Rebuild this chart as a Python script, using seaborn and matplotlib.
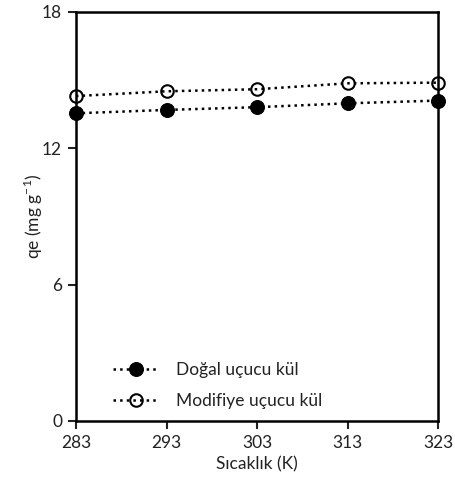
import matplotlib
matplotlib.use("Agg")
import matplotlib.pyplot as plt
import seaborn as sns
import pandas as pd

temperatures = [283, 293, 303, 313, 323]
dogal = [13.54, 13.69, 13.81, 13.98, 14.10]
modifiye = [14.30, 14.51, 14.60, 14.86, 14.89]
series_names = ["Doğal uçucu kül", "Modifiye uçucu kül"]
x_ticks = [283, 293, 303, 313, 323]
y_ticks = [0, 6, 12, 18]

sns.set_style("white")
plt.rcParams['font.family'] = ['Lato', 'DejaVu Sans']
plt.rcParams['mathtext.fontset'] = 'custom'
plt.rcParams['mathtext.rm'] = 'Lato'

df = pd.DataFrame({
    "T": temperatures * 2,
    "qe": dogal + modifiye,
    "series": [series_names[0]] * 5 + [series_names[1]] * 5,
})

fig = plt.figure(figsize=(4.55, 4.91), dpi=100)
ax = fig.add_axes([0.167, 0.1426, 0.796, 0.833])

sns.lineplot(data=df[df.series == series_names[0]], x="T", y="qe", ax=ax,
             color="black", linestyle=":", linewidth=1.8, marker="o",
             markersize=10, markerfacecolor="black", markeredgecolor="black",
             label=series_names[0], clip_on=False, zorder=3)
sns.lineplot(data=df[df.series == series_names[1]], x="T", y="qe", ax=ax,
             color="black", linestyle=":", linewidth=1.8, marker="o",
             markersize=9, markerfacecolor="none", markeredgecolor="black",
             markeredgewidth=1.5, label=series_names[1], clip_on=False, zorder=3)

ax.set_xlim(283, 323)
ax.set_ylim(0, 18)
ax.set_xticks(x_ticks)
ax.set_yticks(y_ticks)
ax.tick_params(axis="both", direction="out", length=6, width=1.5, labelsize=12.5,
               colors="#222222", bottom=True, left=True, pad=4)
for s in ax.spines.values():
    s.set_linewidth(1.8)
    s.set_color("black")

ax.set_xlabel("Sıcaklık (K)", fontsize=12.5, labelpad=4, color="#222222")
ax.set_ylabel("qe (mg g$^{\\mathregular{-1}}$)", fontsize=12.5, labelpad=-2, color="#222222")

leg = ax.legend(loc="lower left", bbox_to_anchor=(0.06, -0.01), frameon=False,
                fontsize=12.5, handlelength=2.6, handletextpad=1.0, labelspacing=0.9)
for t in leg.get_texts():
    t.set_color("#222222")

fig.savefig("out.png", dpi=100)
